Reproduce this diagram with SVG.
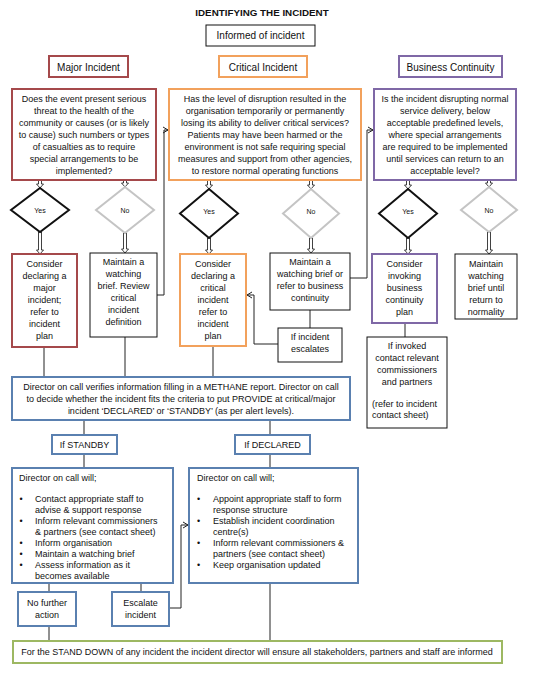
<svg xmlns="http://www.w3.org/2000/svg" width="535" height="678" viewBox="0 0 535 678">
<defs>
<style>
text{font-family:"Liberation Sans",Arial,sans-serif;font-size:9px;fill:#111}
.c{text-anchor:middle}
.h{font-size:10px}
.t{font-size:9.8px;font-weight:bold}
.yn{font-size:7px}
.box{fill:#fff;stroke:#111;stroke-width:1}
.red{fill:#fff;stroke:#A5494B;stroke-width:2}
.org{fill:#fff;stroke:#F2A15C;stroke-width:2}
.pur{fill:#fff;stroke:#7F68A6;stroke-width:2}
.blu{fill:#fff;stroke:#5A80B0;stroke-width:2}
.grn{fill:#fff;stroke:#9DB862;stroke-width:2}
.dy{fill:#fff;stroke:#111;stroke-width:2}
.dn{fill:#fff;stroke:#C4C4C4;stroke-width:2}
.ln{fill:none;stroke:#222;stroke-width:1}
.da{fill:#fff;stroke:#111;stroke-width:0.8}
</style>
<marker id="oa" markerWidth="8" markerHeight="8" refX="6" refY="4" orient="auto" markerUnits="userSpaceOnUse">
<path d="M1,1 L6,4 L1,7" fill="none" stroke="#222" stroke-width="1"/>
</marker>
</defs>
<rect width="535" height="678" fill="#fff"/>
<text class="c t" x="262" y="15.5">IDENTIFYING THE INCIDENT</text>

<g id="connectors">
<!-- double arrows Q to diamonds -->
<path class="da" d="M38.5,180 V184 H36.5 L40,188 L43.5,184 H41.5 V180 Z"/>
<path class="da" d="M123.5,180 V183 H121.5 L125,187 L128.5,183 H126.5 V180 Z"/>
<path class="da" d="M207.5,180 V185 H205.5 L209,189 L212.5,185 H210.5 V180 Z"/>
<path class="da" d="M309.5,180 V185 H307.5 L311,189 L314.5,185 H312.5 V180 Z"/>
<path class="da" d="M406.5,180 V185 H404.5 L408,189 L411.5,185 H409.5 V180 Z"/>
<path class="da" d="M487.5,180 V183 H485.5 L489,187 L492.5,183 H490.5 V180 Z"/>
<!-- diamonds to boxes -->
<path class="da" d="M38.5,232 V250 H36.5 L40,254 L43.5,250 H41.5 V232 Z"/>
<path class="da" d="M123.5,233 V249 H121.5 L125,253 L128.5,249 H126.5 V233 Z"/>
<path class="da" d="M207.5,238 V250 H205.5 L209,254 L212.5,250 H210.5 V238 Z"/>
<path class="da" d="M309.5,238 V249 H307.5 L311,253 L314.5,249 H312.5 V238 Z"/>
<path class="da" d="M406.5,238 V250 H404.5 L408,254 L411.5,250 H409.5 V238 Z"/>
<path class="da" d="M487.5,232 V250 H485.5 L489,254 L492.5,250 H490.5 V232 Z"/>
<!-- loops -->
<path class="ln" d="M157,295 H164 V130 H168" marker-end="url(#oa)"/>
<path class="ln" d="M350,278 H367 V130 H373" marker-end="url(#oa)"/>
<path class="ln" d="M310,310 V328"/>
<path class="ln" d="M278,344 H254 V295 H247" marker-end="url(#oa)"/>
<path class="ln" d="M405,323 V337"/>
<!-- to director -->
<path class="ln" d="M44,347 V377"/>
<path class="ln" d="M125,337 V377"/>
<path class="ln" d="M213,346 V377"/>
<path class="ln" d="M84,420 V435"/>
<path class="ln" d="M270,420 V435"/>
<path class="ln" d="M84,454 V468"/>
<path class="ln" d="M270,454 V468"/>
<path class="ln" d="M49,583 V592"/>
<path class="ln" d="M141,583 V592"/>
<path class="ln" d="M169,608 H181 V525 H188" marker-end="url(#oa)"/>
<path class="ln" d="M49,626 V641"/>
<path class="ln" d="M270,583 V641"/>
</g>

<g id="informed">
<rect class="box" x="206" y="25" width="109" height="21"/>
<text class="c h" x="260.5" y="38.5">Informed of incident</text>
</g>
<g id="major-incident">
<rect class="red" x="49" y="56" width="79" height="21"/>
<text class="c h" x="88.5" y="70.5">Major Incident</text>
</g>
<g id="critical-incident">
<rect class="org" x="219" y="56" width="88" height="21"/>
<text class="c h" x="263" y="70.5">Critical Incident</text>
</g>
<g id="business-continuity">
<rect class="pur" x="399" y="56" width="103" height="21"/>
<text class="c h" x="450.5" y="70.5">Business Continuity</text>
</g>

<g id="major-question">
<rect class="red" x="12" y="89" width="144" height="91"/>
<text class="c" x="84" y="102">Does the event present serious</text>
<text class="c" x="84" y="114">threat to the health of the</text>
<text class="c" x="84" y="126">community or causes (or is likely</text>
<text class="c" x="84" y="138">to cause) such numbers or types</text>
<text class="c" x="84" y="150">of casualties as to require</text>
<text class="c" x="84" y="162">special arrangements to be</text>
<text class="c" x="84" y="174">implemented?</text>
</g>
<g id="critical-question">
<rect class="org" x="169" y="89" width="192" height="91"/>
<text class="c" x="265" y="102">Has the level of disruption resulted in the</text>
<text class="c" x="265" y="114">organisation temporarily or permanently</text>
<text class="c" x="265" y="126">losing its ability to deliver critical services?</text>
<text class="c" x="265" y="138">Patients may have been harmed or the</text>
<text class="c" x="265" y="150">environment is not safe requiring special</text>
<text class="c" x="265" y="162">measures and support from other agencies,</text>
<text class="c" x="265" y="174">to restore normal operating functions</text>
</g>
<g id="business-question">
<rect class="pur" x="374" y="89" width="142" height="91"/>
<text class="c" x="445" y="102">Is the incident disrupting normal</text>
<text class="c" x="445" y="114">service delivery, below</text>
<text class="c" x="445" y="126">acceptable predefined levels,</text>
<text class="c" x="445" y="138">where special arrangements</text>
<text class="c" x="445" y="150">are required to be implemented</text>
<text class="c" x="445" y="162">until services can return to an</text>
<text class="c" x="445" y="174">acceptable level?</text>
</g>

<g id="major-yes">
<polygon class="dy" points="40,188 69,210 40,232 11,210"/>
<text class="c yn" x="40" y="212.5">Yes</text>
</g>
<g id="major-no">
<polygon class="dn" points="125,187 154,210 125,233 96,210"/>
<text class="c yn" x="125" y="212.5">No</text>
</g>
<g id="critical-yes">
<polygon class="dy" points="209,189 238,213.5 209,238 180,213.5"/>
<text class="c yn" x="209" y="214">Yes</text>
</g>
<g id="critical-no">
<polygon class="dn" points="311,189 339,213.5 311,238 283,213.5"/>
<text class="c yn" x="311" y="214">No</text>
</g>
<g id="business-yes">
<polygon class="dy" points="408,189 437,213.5 408,238 379,213.5"/>
<text class="c yn" x="408" y="214">Yes</text>
</g>
<g id="business-no">
<polygon class="dn" points="489,187 517,210 489,232 461,210"/>
<text class="c yn" x="489" y="212.5">No</text>
</g>

<g id="major-consider">
<rect class="red" x="12" y="254" width="65" height="93"/>
<text class="c" x="44.5" y="267">Consider</text>
<text class="c" x="44.5" y="279">declaring a</text>
<text class="c" x="44.5" y="291">major</text>
<text class="c" x="44.5" y="303">incident;</text>
<text class="c" x="44.5" y="315">refer to</text>
<text class="c" x="44.5" y="327">incident</text>
<text class="c" x="44.5" y="339">plan</text>
</g>
<g id="major-maintain">
<rect class="box" x="90" y="253" width="67" height="84"/>
<text class="c" x="123.5" y="265">Maintain a</text>
<text class="c" x="123.5" y="277">watching</text>
<text class="c" x="123.5" y="289">brief. Review</text>
<text class="c" x="123.5" y="301">critical</text>
<text class="c" x="123.5" y="313">incident</text>
<text class="c" x="123.5" y="325">definition</text>
</g>
<g id="critical-consider">
<rect class="org" x="180" y="254" width="66" height="92"/>
<text class="c" x="213" y="267">Consider</text>
<text class="c" x="213" y="279">declaring a</text>
<text class="c" x="213" y="291">critical</text>
<text class="c" x="213" y="303">incident</text>
<text class="c" x="213" y="315">refer to</text>
<text class="c" x="213" y="327">incident</text>
<text class="c" x="213" y="339">plan</text>
</g>
<g id="critical-maintain">
<rect class="box" x="270" y="253" width="80" height="57"/>
<text class="c" x="310" y="265">Maintain a</text>
<text class="c" x="310" y="277">watching brief or</text>
<text class="c" x="310" y="289">refer to business</text>
<text class="c" x="310" y="301">continuity</text>
</g>
<g id="if-escalates">
<rect class="box" x="278" y="328" width="64" height="34"/>
<text class="c" x="310" y="340">If incident</text>
<text class="c" x="310" y="352">escalates</text>
</g>
<g id="business-consider">
<rect class="pur" x="372" y="254" width="65" height="69"/>
<text class="c" x="404.5" y="267">Consider</text>
<text class="c" x="404.5" y="279">invoking</text>
<text class="c" x="404.5" y="291">business</text>
<text class="c" x="404.5" y="303">continuity</text>
<text class="c" x="404.5" y="315">plan</text>
</g>
<g id="business-maintain">
<rect class="box" x="455" y="254" width="62" height="65"/>
<text class="c" x="486" y="267">Maintain</text>
<text class="c" x="486" y="279">watching</text>
<text class="c" x="486" y="291">brief until</text>
<text class="c" x="486" y="303">return to</text>
<text class="c" x="486" y="315">normality</text>
</g>
<g id="if-invoked">
<rect class="box" x="367" y="337" width="80" height="91"/>
<text class="c" x="407" y="349">If invoked</text>
<text class="c" x="407" y="361">contact relevant</text>
<text class="c" x="407" y="373">commissioners</text>
<text class="c" x="407" y="385">and partners</text>
<text x="372" y="407">(refer to incident</text>
<text x="372" y="418">contact sheet)</text>
</g>

<g id="director">
<rect class="blu" x="12" y="377" width="338" height="43"/>
<text class="c" x="181" y="390">Director on call verifies information filling in a METHANE report. Director on call</text>
<text class="c" x="181" y="402">to decide whether the incident fits the criteria to put PROVIDE at critical/major</text>
<text class="c" x="181" y="414">incident ‘DECLARED’ or ‘STANDBY’ (as per alert levels).</text>
</g>
<g id="if-standby">
<rect class="blu" x="52" y="435" width="65" height="19"/>
<text class="c" x="84.5" y="448">If STANDBY</text>
</g>
<g id="if-declared">
<rect class="blu" x="235" y="435" width="75" height="19"/>
<text class="c" x="272.5" y="448">If DECLARED</text>
</g>

<g id="standby-actions">
<rect class="blu" x="12" y="468" width="161" height="115"/>
<text x="19" y="481">Director on call will;</text>
<text x="19.5" y="502">•</text><text x="35" y="502">Contact appropriate staff to</text>
<text x="35" y="512.5">advise &amp; support response</text>
<text x="19.5" y="524">•</text><text x="35" y="524">Inform relevant commissioners</text>
<text x="35" y="535">&amp; partners (see contact sheet)</text>
<text x="19.5" y="546">•</text><text x="35" y="546">Inform organisation</text>
<text x="19.5" y="557">•</text><text x="35" y="557">Maintain a watching brief</text>
<text x="19.5" y="567.5">•</text><text x="35" y="567.5">Assess information as it</text>
<text x="35" y="579">becomes available</text>
</g>
<g id="declared-actions">
<rect class="blu" x="189" y="468" width="169" height="115"/>
<text x="197" y="481">Director on call will;</text>
<text x="197" y="502">•</text><text x="213" y="502">Appoint appropriate staff to form</text>
<text x="213" y="512.5">response structure</text>
<text x="197" y="524">•</text><text x="213" y="524">Establish incident coordination</text>
<text x="213" y="535">centre(s)</text>
<text x="197" y="546">•</text><text x="213" y="546">Inform relevant commissioners &amp;</text>
<text x="213" y="556.5">partners (see contact sheet)</text>
<text x="197" y="567.5">•</text><text x="213" y="567.5">Keep organisation updated</text>
</g>
<g id="no-further">
<rect class="blu" x="18" y="592" width="58" height="34"/>
<text class="c" x="47" y="606">No further</text>
<text class="c" x="47" y="618">action</text>
</g>
<g id="escalate">
<rect class="blu" x="112" y="592" width="57" height="34"/>
<text class="c" x="140.5" y="606">Escalate</text>
<text class="c" x="140.5" y="618">incident</text>
</g>
<g id="stand-down">
<rect class="grn" x="13" y="641" width="489" height="22"/>
<text class="c" x="257" y="654.5">For the STAND DOWN of any incident the incident director will ensure all stakeholders, partners and staff are informed</text>
</g>
</svg>
